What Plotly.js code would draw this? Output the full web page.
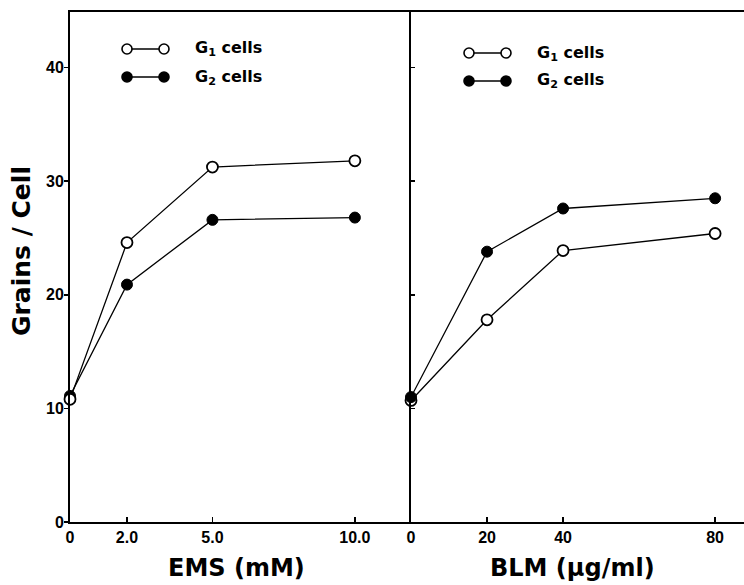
<!DOCTYPE html>
<html>
<head>
<meta charset="utf-8">
<script src="https://cdn.plot.ly/plotly-3.0.1.min.js"></script>
<style>html,body{margin:0;padding:0;background:#fff;}</style>
</head>
<body>
<div id="chart" style="width:744px;height:585px;"></div>
<script>
// EMS panel
const emsDose = [0, 2, 5, 10];
const emsG1 = [10.8, 24.6, 31.25, 31.8];
const emsG2 = [11.1, 20.9, 26.6, 26.8];
const emsTickVals = [0, 2, 5, 10];
const emsTickText = ['0', '2.0', '5.0', '10.0'];
// BLM panel
const blmDose = [0, 20, 40, 80];
const blmG1 = [10.7, 17.8, 23.9, 25.4];
const blmG2 = [11.0, 23.8, 27.6, 28.5];
const blmTickVals = [0, 20, 40, 80];
const blmTickText = ['0', '20', '40', '80'];
const yTickVals = [0, 10, 20, 30, 40];
const seriesNames = ['G<sub>1</sub> cells', 'G<sub>2</sub> cells'];

const openMarker = {symbol: 'circle', size: 11, color: '#fff', line: {color: '#000', width: 1.8}};
const fillMarker = {symbol: 'circle', size: 11, color: '#000', line: {color: '#000', width: 1}};
const ln = {color: '#000', width: 1.3};

const traces = [
  {x: emsDose, y: emsG2, mode: 'lines+markers', line: ln, marker: fillMarker, xaxis: 'x', yaxis: 'y', showlegend: false, cliponaxis: false},
  {x: emsDose, y: emsG1, mode: 'lines+markers', line: ln, marker: openMarker, xaxis: 'x', yaxis: 'y', showlegend: false, cliponaxis: false},
  {x: blmDose, y: blmG1, mode: 'lines+markers', line: ln, marker: openMarker, xaxis: 'x2', yaxis: 'y2', showlegend: false, cliponaxis: false},
  {x: blmDose, y: blmG2, mode: 'lines+markers', line: ln, marker: fillMarker, xaxis: 'x2', yaxis: 'y2', showlegend: false, cliponaxis: false}
];

const W = 744, H = 585, ML = 70, MR = 0, MT = 12, MB = 63;
const PW = W - ML - MR, PH = H - MT - MB;
const split = (411 - ML) / PW;
const px = v => (v - ML) / PW;       // pixel x -> paper
const py = v => (H - MB - v) / PH;   // pixel y -> paper

const tickFont = {family: 'Liberation Sans, Arial', size: 16, color: '#000', weight: 'bold'};
const titleFont = {family: 'DejaVu Sans, Liberation Sans', size: 24, color: '#000', weight: 'bold'};
const legFont = {family: 'DejaVu Sans, Liberation Sans', size: 16, color: '#000', weight: 'bold'};

const shapes = [];
const annotations = [];
function legendBlock(x1, x2, yOpen, yFill, xText) {
  [[yOpen, false, seriesNames[0]], [yFill, true, seriesNames[1]]].forEach(([yy, filled, name]) => {
    shapes.push({type: 'line', xref: 'paper', yref: 'paper', x0: px(x1), x1: px(x2), y0: py(yy), y1: py(yy), line: {color: '#000', width: 1.3}});
    [x1, x2].forEach(cx => {
      shapes.push({type: 'circle', xref: 'paper', yref: 'paper', x0: px(cx - 5), x1: px(cx + 5), y0: py(yy + 5), y1: py(yy - 5),
        fillcolor: filled ? '#000' : '#fff', line: {color: '#000', width: 1.6}});
    });
    annotations.push({xref: 'paper', yref: 'paper', x: px(xText), y: py(yy), xanchor: 'left', yanchor: 'middle', showarrow: false,
      text: name, font: legFont});
  });
}
legendBlock(127, 164, 49, 77, 193);
legendBlock(469, 506, 53, 81, 535);

annotations.push({xref: 'paper', yref: 'paper', x: px(236), y: py(568), xanchor: 'center', yanchor: 'middle', showarrow: false,
  text: 'EMS (mM)', font: titleFont});
annotations.push({xref: 'paper', yref: 'paper', x: px(572), y: py(568), xanchor: 'center', yanchor: 'middle', showarrow: false,
  text: 'BLM (µg/ml)', font: titleFont});
annotations.push({xref: 'paper', yref: 'paper', x: px(21), y: py(251), xanchor: 'center', yanchor: 'middle', showarrow: false, textangle: -90,
  text: 'Grains / Cell', font: Object.assign({}, titleFont, {size: 25})});

const layout = {
  width: W, height: H,
  margin: {l: ML, r: MR, t: MT, b: MB, pad: 0},
  paper_bgcolor: '#fff', plot_bgcolor: '#fff',
  showlegend: false,
  xaxis: {domain: [0, split], range: [0, 11.97], tickvals: emsTickVals, ticktext: emsTickText, ticks: 'inside', ticklen: 5, tickwidth: 1.5, tickcolor: '#000',
    showline: true, linecolor: '#000', linewidth: 2, mirror: true, showgrid: false, zeroline: false, tickfont: tickFont, anchor: 'y', fixedrange: true},
  yaxis: {domain: [0, 1], range: [0, 44.9], tickvals: yTickVals, ticks: 'outside', ticklen: 4, tickwidth: 1.5, tickcolor: '#000', ticklabelstandoff: -3,
    showline: true, linecolor: '#000', linewidth: 2, mirror: false, showgrid: false, zeroline: false, tickfont: tickFont, anchor: 'x', fixedrange: true},
  xaxis2: {domain: [split, 1], range: [0, 87.6], tickvals: blmTickVals, ticktext: blmTickText, ticks: 'inside', ticklen: 5, tickwidth: 1.5, tickcolor: '#000',
    showline: true, linecolor: '#000', linewidth: 2, mirror: true, showgrid: false, zeroline: false, tickfont: tickFont, anchor: 'y2', fixedrange: true},
  yaxis2: {domain: [0, 1], range: [0, 44.9], tickvals: yTickVals, showticklabels: false, ticks: 'inside', ticklen: 4, tickwidth: 1.5, tickcolor: '#000',
    showline: true, linecolor: '#000', linewidth: 2, mirror: false, showgrid: false, zeroline: false, anchor: 'x2', fixedrange: true},
  shapes: shapes,
  annotations: annotations
};

Plotly.newPlot('chart', traces, layout, {displayModeBar: false, staticPlot: true});
</script>
</body>
</html>
